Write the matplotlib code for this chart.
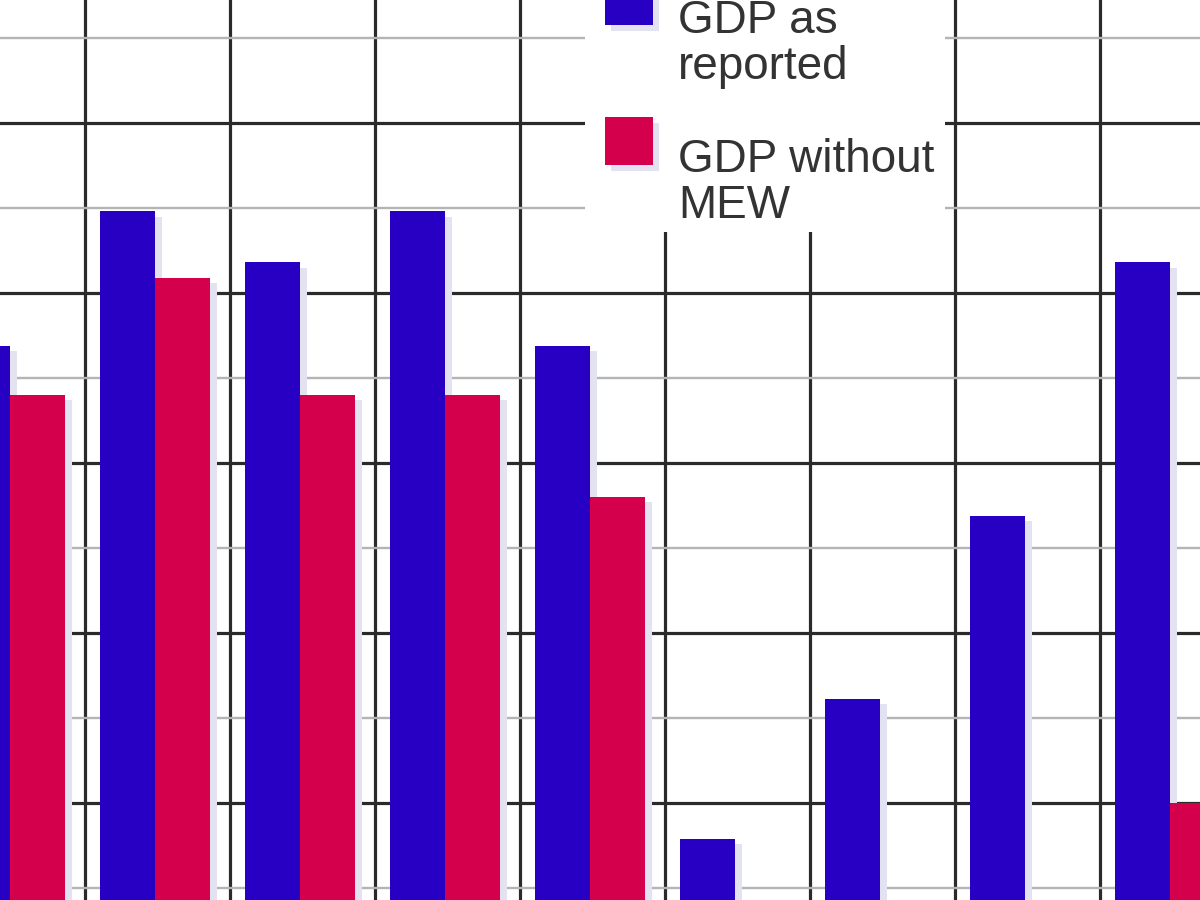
import numpy as np
import matplotlib.pyplot as plt
from matplotlib.patches import Rectangle

# values (one unit = one major grid step)
groups = np.arange(9)
gdp_reported = [3.69, 4.48, 4.18, 4.48, 3.69, 0.79, 1.61, 2.69, 4.18]
gdp_without_mew = [3.40, 4.09, 3.40, 3.40, 2.80, np.nan, np.nan, np.nan, 1.00]
labels = ["GDP as\nreported", "GDP without\nMEW"]

blue = "#2800c4"
red = "#d5004c"
shadow = "#e2e2f0"

fig = plt.figure(figsize=(12, 9), dpi=100)
ax = fig.add_axes([0, 0, 1, 1])

x0 = groups - 1 + 0.483
w = 0.379
dx, dy = 0.045, -0.03

# soft shadow behind the bars
ax.bar(x0 - w + dx, np.array(gdp_reported) + dy, w, align="edge", color=shadow, zorder=2)
ax.bar(x0 + dx, np.array(gdp_without_mew) + dy, w, align="edge", color=shadow, zorder=2)
ax.bar(x0 - w, gdp_reported, w, align="edge", color=blue, zorder=3)
ax.bar(x0, gdp_without_mew, w, align="edge", color=red, zorder=3)

ax.set_xlim(-85 / 145, 1115 / 145)
ax.set_ylim(1 - 97 / 170, 1 + 803 / 170)

# grid
for v in range(0, 8):
    ax.axvline(v, color="#2a2a2a", lw=2.3, zorder=1)
for h in range(1, 6):
    ax.axhline(h, color="#2a2a2a", lw=2.3, zorder=1)
for h in np.arange(0.5, 6.0, 1.0):
    ax.axhline(h, color="#b4b4b4", lw=1.7, zorder=1)

ax.set_xticks([])
ax.set_yticks([])
for s in ax.spines.values():
    s.set_visible(False)

# legend box (white panel over the grid)
def px(x, y):
    return x / 1200, 1 - y / 900

ax.add_patch(Rectangle(px(585, 232), 360 / 1200, 240 / 900, transform=ax.transAxes,
                       facecolor="white", edgecolor="none", zorder=4))
for (x, y, c) in [(605, 25, blue), (605, 165, red)]:
    ax.add_patch(Rectangle(px(x + 6, y + 6), 48 / 1200, 48 / 900, transform=ax.transAxes,
                           facecolor=shadow, edgecolor="none", zorder=5))
    ax.add_patch(Rectangle(px(x, y), 48 / 1200, 48 / 900, transform=ax.transAxes,
                           facecolor=c, edgecolor="none", zorder=6))
for (y, t) in [(79, labels[0]), (218, labels[1])]:
    ax.text(*px(678, y), t, transform=ax.transAxes, fontsize=33, family="Liberation Sans",
            color="#333333", va="baseline", ha="left", linespacing=1.05, zorder=7)

fig.savefig("out.png", dpi=100)
